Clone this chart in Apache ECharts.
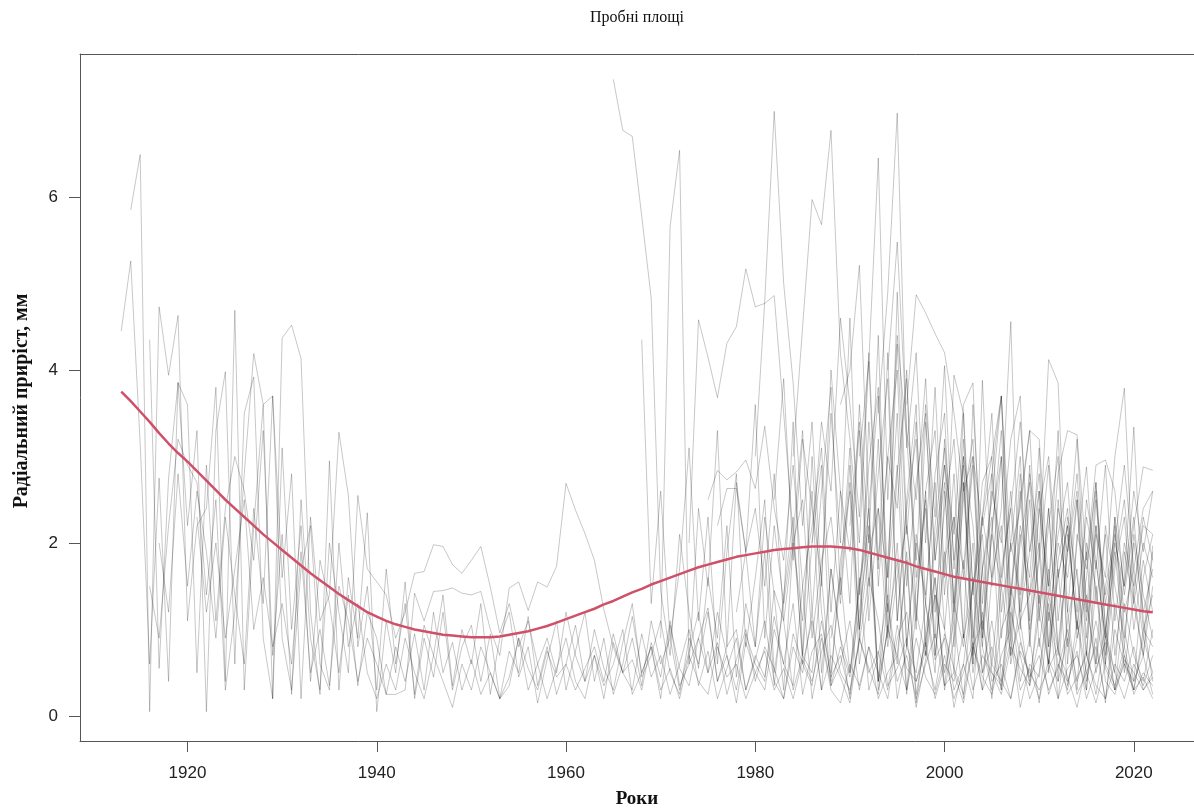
<!DOCTYPE html>
<html>
<head>
<meta charset="utf-8">
<script src="https://cdn.jsdelivr.net/npm/echarts@6/dist/echarts.min.js"></script>
<style>
  html, body { margin: 0; padding: 0; background: #fff; }
  #chart { width: 1194px; height: 809px; }
</style>
</head>
<body>
<div id="chart"></div>
<script>
// ticks
var xTicks = [1920, 1940, 1960, 1980, 2000, 2020]
var yTicks = [0, 2, 4, 6]

// first year of each tree series (all run to 2022)
var treeStarts = [1913, 1914, 1916, 1916, 1917, 1921,
  1965, 1968, 1970, 1973, 1975, 1976, 1978, 1980, 1982, 1984, 1986, 1988, 1989, 1990, 1991, 1993, 1994, 1996]

// radial increment, mm — one row per decade
var tree01 = [4.45, 5.26, 3.15, 0.6, 2.75, 0.4, 3.86,
  2.2, 3.3, 0.05, 3.3, 3.98, 0.6, 3.5, 3.92, 0.9, 0.2,
  4.37, 4.52, 4.13, 1.2, 0.25, 2.95, 0.3, 1.6, 0.9, 2.35,
  0.05, 1.1, 0.5, 1.55, 0.2, 0.9, 0.45, 1.2, 0.3, 0.8,
  1.05, 0.4, 0.95, 0.2, 0.75, 0.5, 1.15, 0.35, 0.8, 0.25,
  0.6, 1.05, 0.4, 0.7, 0.2, 0.85, 0.5, 0.3, 0.95, 0.45,
  0.7, 0.25, 0.6, 1.0, 0.35, 0.75, 0.2, 0.55, 0.9, 0.3,
  0.65, 1.1, 0.4, 0.2, 0.8, 0.5, 1.2, 0.3, 0.7, 0.45,
  0.15, 0.9, 0.55, 0.25, 1.05, 0.4, 0.7, 0.2, 0.6, 0.95,
  0.35, 0.5, 0.15, 0.8, 0.45, 0.25, 0.7, 1.0, 0.3, 0.55,
  0.2, 0.65, 0.4, 0.9, 0.25, 0.5, 0.15, 0.6, 0.35, 0.8,
  0.3, 0.45, 0.2]
var tree02 = [5.85, 6.49, 0.05, 4.73, 3.94, 4.63,
  1.1, 2.2, 2.4, 3.8, 0.4, 4.69, 0.3, 2.2, 3.6, 3.7,
  1.6, 2.8, 0.2, 2.3, 1.1, 1.4, 3.28, 2.55, 0.8, 1.5,
  0.3, 1.7, 0.6, 1.3, 0.25, 1.05, 0.7, 1.4, 0.35, 1.0,
  0.6, 1.3, 0.25, 0.9, 1.2, 0.45, 0.8, 0.15, 0.65, 1.1,
  0.3, 0.75, 1.2, 0.4, 0.9, 0.25, 0.6, 1.15, 0.5, 0.8,
  0.2, 1.05, 0.55, 0.35, 0.9, 1.25, 0.4, 0.7, 0.15, 0.85,
  0.5, 0.3, 1.0, 0.6, 1.3, 0.25, 0.75, 0.95, 0.35, 0.6,
  1.1, 0.3, 0.8, 0.5, 0.2, 0.9, 1.2, 0.4, 0.75, 0.3,
  0.95, 0.55, 0.25, 0.8, 1.1, 0.4, 0.6, 0.2, 0.85, 0.45,
  0.7, 0.3, 0.55, 1.0, 0.4, 0.75, 0.25, 0.9, 0.5, 0.2,
  0.6, 0.35, 0.7]
var tree03 = [4.35, 0.55, 2.75, 3.85,
  3.6, 0.5, 2.9, 1.1, 2.4, 3.0, 2.6, 1.8, 3.3, 0.7,
  2.1, 0.25, 2.5, 0.9, 0.3, 2.0, 1.2, 0.5, 2.55, 1.7,
  1.55, 1.4, 0.9, 1.2, 1.65, 1.67, 1.98, 1.96, 1.75, 1.65,
  1.8, 1.96, 1.49, 0.96, 1.3, 0.8, 1.1, 0.6, 0.9, 0.5,
  1.2, 0.7, 0.4, 1.0, 0.55, 0.3, 0.85, 1.3, 0.45, 0.7,
  1.1, 0.5, 0.25, 0.9, 0.6, 1.2, 0.4, 0.8, 1.0, 0.3,
  0.7, 0.45, 1.15, 0.6, 0.35, 1.5, 0.2, 0.75, 1.05, 0.5,
  0.3, 0.85, 1.6, 1.1, 0.35, 0.55, 0.9, 0.1, 0.65, 1.4,
  1.0, 0.3, 0.6, 0.2, 1.7, 0.5, 0.35, 0.9, 0.1, 0.6,
  0.45, 1.3, 0.2, 0.55, 0.7, 0.3, 1.5, 0.4, 0.25, 0.65,
  0.5, 0.3, 0.45]
var tree04 = [1.5, 0.9, 2.2, 3.2,
  2.9, 2.7, 1.4, 2.5, 0.3, 1.2, 2.8, 4.19, 3.6, 0.2,
  3.1, 1.0, 2.2, 0.4, 1.8, 1.3, 0.5, 1.4, 0.35, 1.2,
  0.9, 0.25, 0.25, 0.3, 1.42, 1.1, 1.44, 1.45, 1.48, 1.42,
  1.4, 1.44, 1.0, 0.7, 1.48, 1.55, 1.22, 1.55, 1.49, 1.73,
  2.69, 2.38, 2.11, 1.8, 1.23, 0.8, 0.5, 0.9, 0.35, 1.1,
  0.6, 0.9, 0.3, 0.75, 1.2, 0.5, 0.85, 0.25, 0.65, 1.0,
  0.4, 0.8, 0.55, 0.2, 0.95, 0.6, 0.35, 1.1, 0.45, 0.7,
  0.25, 0.9, 0.5, 0.75, 0.3, 1.05, 0.55, 0.4, 0.85, 0.2,
  0.6, 0.4, 0.95, 0.3, 0.7, 0.5, 0.25, 0.8, 0.55, 0.35,
  0.9, 0.25, 0.6, 0.4, 0.75, 0.2, 0.55, 0.85, 0.3, 0.6,
  0.4, 0.7, 0.25]
var tree05 = [2.0, 1.2, 2.8,
  1.5, 2.6, 1.9, 0.9, 2.3, 1.4, 0.6, 2.4, 1.3, 3.7,
  0.9, 0.3, 1.7, 2.2, 0.6, 0.3, 2.0, 0.8, 1.3, 0.5,
  0.2, 0.6, 0.3, 0.9, 0.5, 0.2, 0.7, 0.4, 0.1, 0.6,
  0.3, 0.8, 0.5, 0.2, 0.45, 0.9, 0.3, 0.6, 0.2, 0.55,
  0.9, 0.4, 0.2, 0.7, 0.35, 0.6, 1.0, 0.25, 0.5, 0.8,
  0.3, 0.55, 0.2, 0.7, 0.4, 0.25, 0.8, 0.45, 0.6, 0.2,
  0.5, 0.75, 0.3, 0.55, 0.2, 0.65, 0.4, 0.9, 0.3, 0.15,
  0.6, 0.35, 0.8, 0.2, 0.5, 0.7, 0.3, 0.9, 0.45, 0.25,
  0.7, 0.2, 0.5, 0.85, 0.3, 0.6, 0.4, 0.2, 0.75, 0.5,
  0.3, 0.55, 0.8, 0.25, 0.45, 0.7, 0.35, 0.2, 0.6, 0.4,
  0.8, 0.3, 0.5]
var tree06 = [2.3, 1.2, 2.0, 0.9, 1.7, 2.5, 1.0, 1.6, 0.8,
  1.3, 0.6, 1.9, 0.5, 1.0, 0.35, 1.5, 1.1, 0.4, 0.9,
  0.6, 0.25, 0.8, 0.4, 0.95, 0.3, 1.2, 0.5, 0.85, 0.3,
  0.65, 0.25, 0.5, 0.2, 0.35, 0.9, 0.55, 0.3, 0.75, 0.45,
  0.6, 0.3, 0.55, 0.8, 0.4, 0.95, 0.5, 0.65, 0.3, 0.85,
  0.45, 1.1, 0.35, 0.6, 0.9, 0.5, 1.2, 0.7, 0.3, 0.95,
  0.6, 0.4, 1.45, 1.1, 0.3, 0.7, 0.5, 1.6, 0.35, 0.8,
  0.45, 1.6, 0.3, 0.7, 1.4, 0.2, 0.8, 0.5, 1.3, 0.65,
  0.9, 0.1, 0.6, 1.5, 0.5, 0.8, 0.3, 1.2, 0.7, 0.2,
  0.5, 1.4, 0.75, 0.45, 0.1, 0.6, 1.1, 0.55, 0.3, 0.7,
  0.25, 0.5, 0.35]
var tree07 = [7.36, 6.77, 6.70, 5.78, 4.83,
  1.45, 0.7, 2.1, 1.2, 0.55, 1.6, 0.9, 2.2, 0.45, 1.3,
  0.8, 1.9, 0.35, 1.4, 2.3, 0.6, 1.1, 0.3, 1.7, 0.9,
  0.5, 1.5, 2.4, 0.4, 1.0, 1.8, 0.25, 1.2, 0.7, 1.6,
  0.35, 1.3, 0.8, 2.0, 0.5, 1.1, 0.3, 1.5, 0.9, 0.4,
  1.2, 0.6, 1.7, 0.35, 0.9, 1.4, 0.5, 1.0, 0.3, 1.3,
  0.7, 0.4, 1.0]
var tree08 = [4.35, 1.3,
  2.6, 0.9, 1.7, 3.1, 1.1, 2.3, 0.6, 1.9, 2.8, 0.8,
  1.6, 2.5, 0.5, 1.3, 2.1, 0.7, 3.0, 1.2, 0.4, 1.8,
  2.6, 0.6, 1.4, 3.2, 0.9, 2.0, 0.3, 1.5, 2.4, 0.7,
  1.9, 0.5, 2.7, 1.0, 0.3, 1.6, 2.2, 0.6, 1.3, 2.5,
  0.8, 1.7, 0.4, 2.1, 1.1, 0.3, 1.8, 0.9, 2.3, 0.5,
  1.4, 0.7, 1.9]
var tree09 = [0.9, 5.66, 6.54, 0.6, 2.4, 1.5, 3.3, 0.8, 2.7, 1.9,
  3.6, 0.9, 2.2, 1.3, 3.4, 0.7, 2.0, 2.9, 0.5, 1.6,
  3.1, 1.0, 2.4, 0.4, 1.8, 3.5, 0.8, 2.1, 1.3, 0.5,
  2.6, 1.1, 3.0, 0.6, 1.7, 2.3, 0.4, 1.4, 2.8, 0.9,
  1.9, 0.5, 2.5, 1.2, 0.3, 2.0, 1.5, 0.6, 2.2, 1.0,
  0.4, 1.6, 2.1]
var tree10 = [2.0, 4.58, 4.15, 3.68, 4.31, 4.50, 5.17,
  4.73, 4.77, 4.86, 3.5, 2.1, 3.3, 1.2, 2.6, 3.8, 1.4,
  2.9, 0.9, 3.4, 1.7, 4.2, 1.1, 2.5, 3.6, 0.7, 2.2,
  3.1, 1.3, 2.7, 0.6, 3.88, 1.5, 2.4, 4.56, 1.0, 2.8,
  1.9, 4.12, 3.85, 1.2, 2.5, 0.7, 2.1, 1.6, 3.0, 3.79,
  1.4, 2.3, 1.8]
var tree11 = [2.5, 2.84, 2.73, 2.82, 2.96,
  2.63, 3.35, 2.4, 1.8, 2.9, 1.5, 2.2, 3.1, 1.2, 2.6,
  1.9, 3.3, 1.1, 2.4, 1.6, 2.9, 0.8, 2.0, 1.4, 2.7,
  1.0, 2.3, 1.7, 3.0, 0.9, 2.1, 1.5, 2.6, 1.2, 1.9,
  2.8, 1.1, 2.0, 1.6, 2.5, 0.9, 2.2, 1.4, 2.0, 2.9,
  1.7, 2.4, 2.6]
var tree12 = [2.2, 2.63, 2.63, 1.9,
  2.4, 1.5, 2.8, 1.1, 2.0, 2.5, 0.9, 1.8, 2.3, 1.3,
  2.7, 1.0, 1.9, 2.4, 0.8, 1.6, 2.2, 1.2, 2.6, 0.7,
  1.8, 2.3, 0.9, 1.5, 2.1, 0.6, 1.7, 2.4, 1.1, 1.4,
  2.0, 0.8, 1.6, 2.2, 1.0, 1.9, 0.6, 1.5, 2.1, 1.2,
  1.7, 0.9, 1.97]
var tree13 = [1.2, 1.9,
  0.8, 2.3, 1.4, 0.3, 2.0, 1.1, 2.6, 0.5, 1.7, 0.9,
  0.2, 1.5, 2.2, 0.4, 1.3, 0.6, 1.9, 0.15, 1.0, 1.6,
  0.3, 0.9, 1.8, 0.5, 1.2, 0.2, 1.5, 0.7, 1.1, 0.35,
  1.4, 0.6, 0.2, 1.1, 1.7, 0.4, 0.9, 0.15, 1.3, 0.7,
  0.3, 1.0, 0.8]
var tree14 = [3.0, 4.8, 6.99, 5.0, 3.85, 2.2, 3.4, 1.5, 4.0, 2.6,
  1.3, 3.6, 2.0, 4.4, 1.0, 2.8, 3.9, 1.6, 2.5, 0.9,
  3.2, 1.8, 2.9, 0.7, 2.3, 3.5, 1.2, 2.0, 3.0, 0.8,
  2.4, 1.5, 3.3, 0.6, 2.1, 1.7, 2.7, 1.0, 1.8, 2.5,
  1.3, 2.0, 1.6]
var tree15 = [2.5, 3.9, 1.8, 3.2, 2.4, 1.6, 3.5, 2.0,
  4.6, 1.4, 2.9, 3.8, 1.2, 4.9, 2.2, 1.0, 3.4, 1.8,
  2.7, 0.8, 3.2, 1.5, 2.3, 3.0, 0.9, 2.0, 1.4, 2.9,
  1.1, 2.4, 0.7, 1.9, 2.8, 1.3, 0.6, 2.2, 1.5, 0.9,
  2.0, 1.2, 1.7]
var tree16 = [3.0, 4.5, 5.97, 5.68, 6.77, 4.19,
  3.2, 2.0, 4.1, 1.5, 3.0, 2.4, 4.0, 1.1, 2.6, 3.3,
  1.4, 2.8, 0.9, 3.6, 1.7, 2.5, 3.7, 1.0, 2.2, 1.6,
  3.1, 0.8, 2.4, 1.9, 3.2, 1.2, 2.6, 0.7, 2.0, 1.5,
  2.3, 1.0, 1.4]
var tree17 = [2.0, 3.4, 2.6, 4.6,
  3.6, 2.3, 4.2, 1.8, 3.0, 4.0, 1.5, 2.7, 3.5, 1.2,
  2.4, 3.2, 1.6, 2.9, 0.8, 2.1, 3.3, 1.3, 2.6, 1.0,
  1.8, 2.9, 1.1, 2.3, 1.6, 0.7, 2.5, 1.3, 1.9, 0.8,
  2.1, 1.4, 0.9]
var tree18 = [0.9, 1.6,
  0.5, 1.2, 2.1, 0.3, 1.0, 0.7, 1.8, 0.25, 0.9, 1.4,
  0.5, 1.1, 0.2, 1.6, 0.8, 0.3, 1.0, 1.3, 0.4, 0.9,
  0.15, 1.2, 0.6, 0.3, 1.1, 0.5, 0.8, 0.2, 1.0, 0.6,
  0.3, 0.9, 0.5]
var tree19 = [3.6,
  4.0, 5.21, 2.4, 3.7, 1.6, 4.3, 2.1, 3.4, 1.3, 2.8,
  3.5, 1.2, 2.5, 3.2, 1.0, 2.2, 3.0, 0.9, 2.0, 2.7,
  1.3, 2.4, 0.8, 1.9, 2.6, 1.1, 2.2, 0.6, 1.7, 2.3,
  1.0, 1.8, 1.2]
var tree20 = [2.2, 3.4, 1.5, 2.8, 3.9, 1.1, 2.4, 3.2, 0.8, 2.0,
  2.9, 1.3, 3.5, 0.9, 2.3, 1.6, 3.0, 0.7, 2.1, 1.4,
  2.6, 0.6, 1.8, 2.4, 0.9, 1.6, 2.7, 1.0, 0.5, 1.9,
  1.3, 0.7, 1.5]
var tree21 = [3.0, 4.1, 6.45, 2.5, 4.4, 3.2, 1.8, 3.6, 2.3,
  4.05, 1.7, 3.0, 2.2, 0.9, 2.8, 3.7, 1.4, 2.5, 3.3,
  1.2, 2.2, 3.0, 0.8, 2.0, 2.88, 1.3, 2.1, 0.7, 1.6,
  3.34, 1.1, 0.4]
var tree22 = [3.5, 4.9, 6.97, 3.1, 4.2, 2.0, 3.8,
  1.6, 3.94, 3.5, 1.4, 2.7, 3.0, 3.7, 1.9, 2.4, 3.3,
  3.2, 1.5, 2.8, 3.3, 3.25, 1.8, 2.9, 2.96, 2.6, 1.4,
  2.2, 2.88, 2.84]
var tree23 = [4.0, 5.48, 3.3, 2.5, 3.9, 1.8,
  2.9, 2.1, 3.6, 3.85, 1.3, 2.6, 2.0, 3.2, 3.7, 1.1,
  2.4, 3.0, 1.6, 2.2, 1.0, 2.5, 1.8, 0.9, 2.3, 1.5,
  2.6, 1.9, 2.6]
var tree24 = [3.6, 4.87, 4.66, 4.42,
  4.2, 3.5, 2.6, 3.0, 2.2, 2.8, 1.6, 2.4, 3.4, 1.9,
  2.6, 1.4, 2.1, 2.7, 1.2, 2.3, 1.7, 2.9, 1.1, 2.0,
  1.5, 2.2, 2.1]

var trees = [tree01, tree02, tree03, tree04, tree05, tree06, tree07, tree08,
  tree09, tree10, tree11, tree12, tree13, tree14, tree15, tree16,
  tree17, tree18, tree19, tree20, tree21, tree22, tree23, tree24]

// smoothed mean curve, 1913-2022
var smoothStart = 1913
var smoothValues = [3.75, 3.64, 3.52, 3.40, 3.27, 3.15, 3.04,
  2.94, 2.83, 2.72, 2.61, 2.50, 2.40, 2.30, 2.20, 2.10, 2.01,
  1.92, 1.83, 1.74, 1.65, 1.57, 1.49, 1.41, 1.34, 1.27, 1.20,
  1.15, 1.10, 1.06, 1.03, 1.00, 0.98, 0.96, 0.94, 0.93, 0.92,
  0.91, 0.91, 0.91, 0.92, 0.94, 0.96, 0.98, 1.01, 1.04, 1.08,
  1.12, 1.16, 1.20, 1.24, 1.29, 1.33, 1.38, 1.43, 1.47, 1.52,
  1.56, 1.60, 1.64, 1.68, 1.72, 1.75, 1.78, 1.81, 1.84, 1.86,
  1.88, 1.90, 1.92, 1.93, 1.94, 1.95, 1.96, 1.96, 1.96, 1.95,
  1.94, 1.92, 1.89, 1.86, 1.83, 1.80, 1.77, 1.73, 1.70, 1.67,
  1.64, 1.61, 1.59, 1.57, 1.55, 1.53, 1.51, 1.49, 1.47, 1.45,
  1.43, 1.41, 1.39, 1.37, 1.35, 1.33, 1.31, 1.29, 1.27, 1.25,
  1.23, 1.21, 1.20]

function toPoints(start, values) {
  return values.map(function (v, i) { return [start + i, v] })
}

var series = trees.map(function (vals, k) {
  return {
    type: 'line',
    data: toPoints(treeStarts[k], vals),
    showSymbol: false,
    silent: true,
    lineStyle: { color: 'rgba(0,0,0,0.22)', width: 1 },
    z: 2
  }
})
series.push({
  type: 'line',
  data: toPoints(smoothStart, smoothValues),
  showSymbol: false,
  silent: true,
  lineStyle: { color: '#CF5068', width: 2.5 },
  z: 5
})

var serif = '"Liberation Serif", "DejaVu Serif", serif'
var sans = '"Liberation Sans", Arial, sans-serif'
var plain = function (v) { return String(v) }

var option = {
  animation: false,
  backgroundColor: '#fff',
  grid: { left: 80, top: 54, right: 0, bottom: 68, containLabel: false },
  xAxis: [
    {
      type: 'value',
      min: 1908.64,
      max: 2026.36,
      axisLine: { show: true, onZero: false, lineStyle: { color: '#555', width: 1 } },
      axisTick: { show: true, length: 11, customValues: xTicks, lineStyle: { color: '#555' } },
      axisLabel: { show: true, customValues: xTicks, formatter: plain, margin: 24, fontFamily: sans, fontSize: 17, color: '#222' },
      splitLine: { show: false }
    },
    {
      type: 'value',
      position: 'top',
      min: 1908.64,
      max: 2026.36,
      axisLine: { show: true, onZero: false, lineStyle: { color: '#555', width: 1 } },
      axisTick: { show: false },
      axisLabel: { show: false },
      splitLine: { show: false }
    }
  ],
  yAxis: {
    type: 'value',
    min: -0.289,
    max: 7.653,
    axisLine: { show: true, onZero: false, lineStyle: { color: '#555', width: 1 } },
    axisTick: { show: true, length: 11, customValues: yTicks, lineStyle: { color: '#555' } },
    axisLabel: { show: true, customValues: yTicks, formatter: plain, margin: 22, fontFamily: sans, fontSize: 17, color: '#222' },
    splitLine: { show: false }
  },
  graphic: [
    { type: 'text', x: 637, y: 18, style: { text: 'Пробні площі', font: '16px ' + serif, fill: '#111', textAlign: 'center', textVerticalAlign: 'middle' } },
    { type: 'text', x: 637, y: 799, style: { text: 'Роки', font: 'bold 19px ' + serif, fill: '#111', textAlign: 'center', textVerticalAlign: 'middle' } },
    { type: 'text', x: 22, y: 401, rotation: Math.PI / 2, style: { text: 'Радіальний приріст, мм', font: 'bold 20px ' + serif, fill: '#111', textAlign: 'center', textVerticalAlign: 'middle' } }
  ],
  series: series
}

var myChart = echarts.init(document.getElementById('chart'))
myChart.setOption(option)
</script>
</body>
</html>
